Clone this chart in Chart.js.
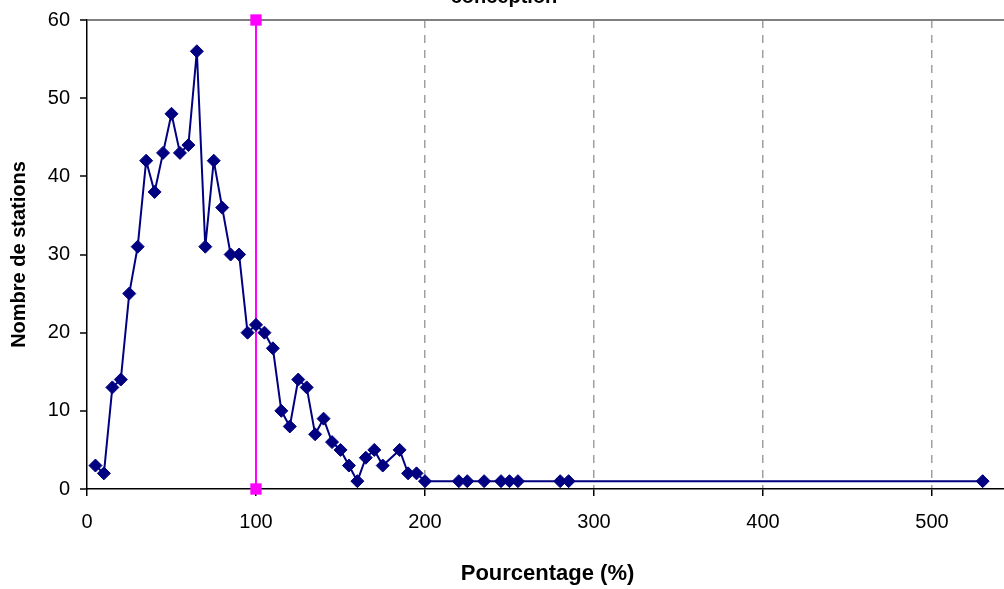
<!DOCTYPE html>
<html>
<head>
<meta charset="utf-8">
<script src="https://cdn.jsdelivr.net/npm/chart.js@4"></script>
<style>
  html, body { margin: 0; padding: 0; background: #fff; overflow: hidden; width: 1004px; height: 589px; }
  #wrap { position: absolute; left: 0; top: -16px; }
</style>
</head>
<body>
<div id="wrap"><canvas id="chart" width="1044" height="605"></canvas></div>
<script>
// % of design flow (x) vs number of stations (y)
const pourcentages = [5, 10, 15, 20, 25, 30, 35, 40, 45, 50, 55, 60, 65, 70, 75, 80, 85, 90, 95,
    100, 105, 110, 115, 120, 125, 130, 135, 140, 145, 150, 155, 160, 165, 170, 175, 185, 190, 195,
    200, 220, 225, 235, 245, 250, 255, 280, 285, 530];
const stations = [3, 2, 13, 14, 25, 31, 42, 38, 43, 48, 43, 44, 56, 31, 42, 36, 30, 30, 20,
    21, 20, 18, 10, 8, 14, 13, 7, 9, 6, 5, 3, 1, 4, 5, 3, 5, 2, 2,
    1, 1, 1, 1, 1, 1, 1, 1, 1, 1];

// 100 % reference line
const seuilX = [100, 100];
const seuilY = [0, 60];

const xTicks = [0, 100, 200, 300, 400, 500];
const yTicks = [0, 10, 20, 30, 40, 50, 60];

const navy = '#000080';
const magenta = '#FF00FF';
const fontFamily = '"Liberation Sans", Arial, sans-serif';

const toPoints = (xs, ys) => xs.map((x, i) => ({x: x, y: ys[i]}));

new Chart(document.getElementById('chart'), {
    type: 'line',
    data: {
        datasets: [
            {
                label: 'Stations',
                data: toPoints(pourcentages, stations),
                borderColor: navy,
                backgroundColor: navy,
                borderWidth: 2,
                pointStyle: 'rectRot',
                pointRadius: 6.5,
                pointBorderWidth: 1,
                tension: 0,
                clip: false
            },
            {
                label: '100 %',
                data: toPoints(seuilX, seuilY),
                borderColor: magenta,
                backgroundColor: magenta,
                borderWidth: 2,
                pointStyle: 'rect',
                pointRadius: 8,
                pointBorderWidth: 0,
                tension: 0,
                clip: false
            }
        ]
    },
    options: {
        responsive: false,
        animation: false,
        layout: {padding: {left: 0, right: 36, top: 0, bottom: 0}},
        plugins: {
            legend: {display: false},
            tooltip: {enabled: false},
            title: {
                display: true,
                text: 'conception',
                color: '#000',
                font: {family: fontFamily, size: 20, weight: 'bold', lineHeight: 1.2},
                padding: {top: 1, bottom: 11}
            }
        },
        scales: {
            x: {
                type: 'linear',
                min: 0,
                max: 545,
                afterBuildTicks: (scale) => { scale.ticks = xTicks.map(v => ({value: v})); },
                afterFit: (scale) => { scale.height = 100; },
                border: {display: true, color: '#000', width: 1.5, dash: [8, 7]},
                grid: {
                    display: true,
                    drawOnChartArea: true,
                    color: (ctx) => (ctx.tick && ctx.tick.value >= 200) ? '#a0a0a0' : 'rgba(0,0,0,0)',
                    lineWidth: 1.5,
                    tickLength: 7,
                    tickColor: '#000',
                    tickWidth: 1.5,
                    tickBorderDash: []
                },
                ticks: {
                    color: '#000',
                    padding: 14,
                    maxRotation: 0,
                    font: {family: fontFamily, size: 20}
                },
                title: {
                    display: true,
                    text: 'Pourcentage (%)',
                    color: '#000',
                    font: {family: fontFamily, size: 22, weight: 'bold', lineHeight: 1.2},
                    padding: {top: 0, bottom: 2}
                }
            },
            y: {
                type: 'linear',
                min: 0,
                max: 60,
                afterBuildTicks: (scale) => { scale.ticks = yTicks.map(v => ({value: v})); },
                afterFit: (scale) => { scale.width = 87; },
                border: {display: true, color: '#000', width: 1.5},
                grid: {
                    display: true,
                    drawOnChartArea: true,
                    color: (ctx) => (ctx.tick && ctx.tick.value === 60) ? '#808080' : 'rgba(0,0,0,0)',
                    lineWidth: 2,
                    tickLength: 7,
                    tickColor: '#000',
                    tickWidth: 1.5
                },
                ticks: {
                    color: '#000',
                    padding: 10,
                    font: {family: fontFamily, size: 20}
                },
                title: {
                    display: true,
                    text: 'Nombre de stations',
                    color: '#000',
                    font: {family: fontFamily, size: 20, weight: 'bold', lineHeight: 1.2},
                    padding: {top: 7, bottom: 0}
                }
            }
        }
    }
});
</script>
</body>
</html>
